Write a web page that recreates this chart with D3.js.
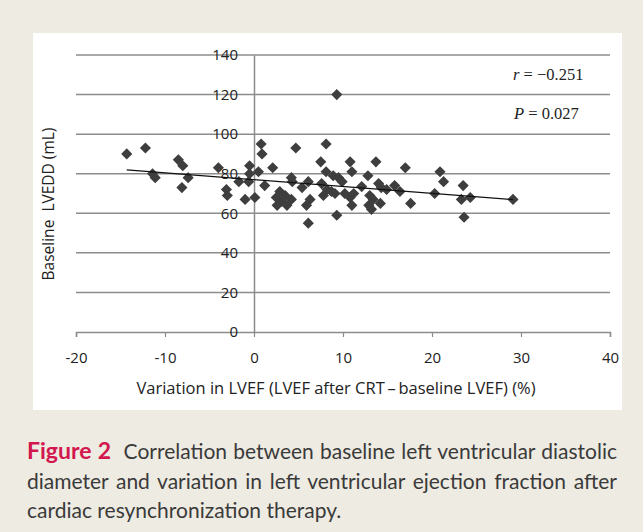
<!DOCTYPE html>
<html>
<head>
<meta charset="utf-8">
<script src="https://cdn.jsdelivr.net/npm/d3@7"></script>
<style>
  body { margin: 0; width: 643px; height: 532px; overflow: hidden; position: relative; background: #eeebe2; font-family: "Open Sans", sans-serif; }
  #plot_area { position: absolute; left: 0; top: 0; }
  #caption { position: absolute; left: 27px; top: 436px; width: 590px; font-family: Lato, sans-serif; font-size: 21px;
             line-height: 29.5px; color: #3a3a3a; }
  #caption div { height: 29.5px; white-space: nowrap; }
  #caption .just { text-align: justify; text-align-last: justify; white-space: normal; }
  #caption b { color: #d2174f; font-size: 23px; }
</style>
</head>
<body>
<div id="plot_area"></div>
<div id="caption"></div>
<script>
// variation in LVEF (%) and baseline LVEDD (mL), one entry per patient
var lvefChange = [-14.3, -12.2, -11.4, -11.1, -8.5, -8.0, -8.1, -7.4, -4.0, -3.1, -3.0, -1.7, -0.6, -0.5, -0.5,
  -1.0, 0.1, 0.8, 0.9, 0.5, 1.2, 2.1, 4.7, 4.2, 4.3, 6.1, 6.3, 5.9, 6.1, 5.4, 8.1, 7.5, 8.1, 8.9, 9.5, 9.9,
  7.6, 8.2, 8.7, 10.2, 10.8, 11.2, 11.0, 10.8, 11.0, 12.8, 13.7, 13.0, 13.4, 12.9, 13.2, 14.0, 14.3, 14.2,
  15.8, 16.4, 17.0, 17.6, 9.3, 12.1, 20.9, 21.3, 20.3, 23.5, 23.3, 24.3, 23.6, 29.1, 9.3, 2.9, 3.5, 2.5,
  3.1, 3.7, 4.2, 2.6, 9.1, 7.8, 14.9];
var lvedd = [90, 93, 80, 78, 87, 84, 73, 78, 83, 72, 69, 76, 76, 84, 80,
  67, 68, 95, 90, 81, 74, 83, 93, 78, 76, 76, 67, 64, 55, 73, 95, 86, 81, 79, 78, 76,
  75, 72, 71, 70, 68, 70, 64, 86, 81, 79, 86, 69, 67, 64, 62, 75, 73, 65,
  74, 71, 83, 65, 59, 73.5, 81, 76, 70, 74, 67, 68, 58, 67, 120, 71, 69, 68,
  66, 64, 67, 64, 70, 69, 72];

// linear trendline
var trendSlope = -0.346;
var trendIntercept = 77.0;

var xTicks = [-20, -10, 0, 10, 20, 30, 40];
var yTicks = [0, 20, 40, 60, 80, 100, 120, 140];
var stats = ["r", " = \u22120.251", "P", " = 0.027"];
var captionLines = [
  ["Figure 2", "Correlation between baseline left ventricular diastolic"],
  ["", "diameter and variation in left ventricular ejection fraction after"],
  ["", "cardiac resynchronization therapy."]
];

var data = lvefChange.map(function (v, i) { return {x: v, y: lvedd[i]}; });

var W = 643, H = 532;
var svg = d3.select("#plot_area").append("svg")
  .attr("width", W)
  .attr("height", H);

// white panel
svg.append("rect")
  .attr("x", 33).attr("y", 33)
  .attr("width", 589).attr("height", 377)
  .attr("fill", "#ffffff");

var x = d3.scaleLinear().domain([-20, 40]).range([76, 610]);
var y = d3.scaleLinear().domain([0, 140]).range([332, 55]);

var gridColor = "#8c8c8c";

// horizontal gridlines
svg.append("g").selectAll("line")
  .data(yTicks.filter(function (d) { return d > 0; }))
  .enter().append("line")
    .attr("x1", x(-20)).attr("x2", x(40))
    .attr("y1", function (d) { return y(d); })
    .attr("y2", function (d) { return y(d); })
    .attr("stroke", gridColor)
    .attr("stroke-width", 1.5);

// X axis crossing at y = 0
var xAxis = svg.append("g")
  .attr("transform", "translate(0," + y(0) + ")")
  .call(d3.axisBottom(x).tickValues(xTicks).tickSize(5).tickPadding(15).tickFormat(function (d) { return String(d); }));
xAxis.select(".domain").attr("stroke", gridColor).attr("stroke-width", 1.5);
xAxis.selectAll(".tick line").attr("stroke", gridColor).attr("stroke-width", 1.2);
xAxis.selectAll("text")
  .style("font-family", "'Open Sans', sans-serif")
  .style("font-size", "15px")
  .attr("fill", "#222");

// Y axis crossing at x = 0
var yAxis = svg.append("g")
  .attr("transform", "translate(" + x(0) + ",0)")
  .call(d3.axisLeft(y).tickValues(yTicks).tickSize(0).tickPadding(16));
yAxis.select(".domain").attr("stroke", gridColor).attr("stroke-width", 1.5);
yAxis.selectAll("text")
  .style("font-family", "'Open Sans', sans-serif")
  .style("font-size", "15px")
  .attr("fill", "#222");

// axis titles
svg.append("text")
  .attr("text-anchor", "middle")
  .attr("x", 336)
  .attr("y", 394)
  .style("font-family", "'Open Sans', sans-serif")
  .style("font-size", "16.5px")
  .attr("fill", "#222")
  .text("Variation in LVEF (LVEF after CRT\u2009\u2013\u2009baseline LVEF) (%)");

svg.append("text")
  .attr("text-anchor", "middle")
  .attr("transform", "translate(54,204) rotate(-90)")
  .style("font-family", "'Open Sans', sans-serif")
  .style("font-size", "15.5px")
  .attr("fill", "#222")
  .style("white-space", "pre")
  .text("Baseline  LVEDD (mL)");

// points
svg.append("g").selectAll("path")
  .data(data)
  .enter().append("path")
    .attr("d", d3.symbol().type(d3.symbolSquare).size(62))
    .attr("transform", function (d) { return "translate(" + x(d.x) + "," + y(d.y) + ") rotate(45)"; })
    .attr("fill", "#3e3e3e");

// trendline over the data range
var xr = d3.extent(lvefChange);
svg.append("line")
  .attr("x1", x(xr[0])).attr("y1", y(trendIntercept + trendSlope * xr[0]))
  .attr("x2", x(xr[1])).attr("y2", y(trendIntercept + trendSlope * xr[1]))
  .attr("stroke", "#111")
  .attr("stroke-width", 1.3);

// r and P annotations
var ann = svg.append("g")
  .style("font-family", "'Liberation Serif', 'Times New Roman', serif")
  .style("font-size", "16.5px")
  .attr("fill", "#222");
var t1 = ann.append("text").attr("x", 513).attr("y", 80);
t1.append("tspan").style("font-style", "italic").text(stats[0]);
t1.append("tspan").text(stats[1]);
var t2 = ann.append("text").attr("x", 514).attr("y", 119);
t2.append("tspan").style("font-style", "italic").text(stats[2]);
t2.append("tspan").text(stats[3]);

// caption, justified line by line except the last
var cap = d3.select("#caption").selectAll("div")
  .data(captionLines)
  .enter().append("div")
    .attr("class", function (d, i) { return i < captionLines.length - 1 ? "just" : null; });
cap.each(function (d) {
  var el = d3.select(this);
  if (d[0]) {
    el.append("b").text(d[0]);
    el.append("span").html("&nbsp;&nbsp;");
  }
  el.append("span").text(d[1]);
});
</script>
</body>
</html>
